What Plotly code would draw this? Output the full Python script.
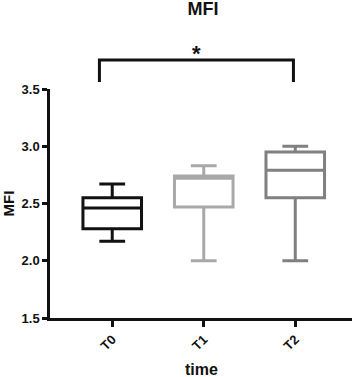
import plotly.graph_objects as go

categories = ["T0", "T1", "T2"]
upper = [2.67, 2.83, 3.00]
q3 = [2.55, 2.74, 2.95]
median = [2.46, 2.72, 2.79]
q1 = [2.28, 2.47, 2.55]
lower = [2.17, 2.00, 2.00]
colors = ["#111111", "#a8a8a8", "#808080"]
y_ticks = [1.5, 2.0, 2.5, 3.0, 3.5]

font = "Arial, Liberation Sans, sans-serif"
fig = go.Figure()
for i, c in enumerate(categories):
    fig.add_trace(go.Box(
        x=[c], q1=[q1[i]], median=[median[i]], q3=[q3[i]],
        lowerfence=[lower[i]], upperfence=[upper[i]],
        width=0.64, whiskerwidth=0.44,
        line=dict(color=colors[i], width=3),
        fillcolor="rgba(255,255,255,0)",
        boxpoints=False, showlegend=False, hoverinfo="skip",
    ))

# significance bracket between T0 and T2
fig.add_shape(type="path", xref="x", yref="paper",
              path="M -0.14,1.031 L -0.14,1.127 L 1.98,1.127 L 1.98,1.031",
              line=dict(color="#111111", width=3))
fig.add_annotation(x=0.92, y=1.09, xref="x", yref="paper", text="<b>*</b>",
                   showarrow=False, yanchor="bottom",
                   font=dict(family=font, size=22, color="#111111"))

# axis titles
fig.add_annotation(x=0.5, y=-0.225, xref="paper", yref="paper", text="<b>time</b>",
                   showarrow=False, xanchor="center", yanchor="middle",
                   font=dict(family=font, size=16, color="#111111"))
fig.add_annotation(x=-0.139, y=0.5, xref="paper", yref="paper", text="<b>MFI</b>",
                   showarrow=False, xanchor="center", yanchor="middle", textangle=-90,
                   font=dict(family=font, size=15, color="#111111"))

fig.update_layout(
    width=358, height=377,
    margin=dict(l=50, r=6, t=89, b=59, autoexpand=False),
    paper_bgcolor="white", plot_bgcolor="white",
    title=dict(text="<b>MFI</b>", x=0.567, xanchor="center", y=0.993, yanchor="top",
               font=dict(family=font, size=18, color="#111111")),
    font=dict(family=font, color="#111111"),
    xaxis=dict(
        type="category", range=[-0.68, 2.62], automargin=False,
        showline=True, linecolor="#111111", linewidth=2.5,
        ticks="outside", ticklen=6, tickwidth=2.5, tickcolor="#111111",
        tickangle=-45, showgrid=False, zeroline=False,
        tickfont=dict(family=font, size=13, color="#111111"),
        ticktext=["<b>%s</b>" % c for c in categories], tickvals=categories,
    ),
    yaxis=dict(
        range=[1.5, 3.5], tickvals=y_ticks, automargin=False,
        ticktext=["<b>%.1f</b>" % v for v in y_ticks],
        showline=True, linecolor="#111111", linewidth=2.5,
        ticks="outside", ticklen=5, tickwidth=2.5, tickcolor="#111111",
        showgrid=False, zeroline=False,
        tickfont=dict(family=font, size=13, color="#111111"),
    ),
)
fig.write_html("out.html", config={"displayModeBar": False},
               post_script="document.body.style.margin='0px';document.body.style.padding='0px';")
